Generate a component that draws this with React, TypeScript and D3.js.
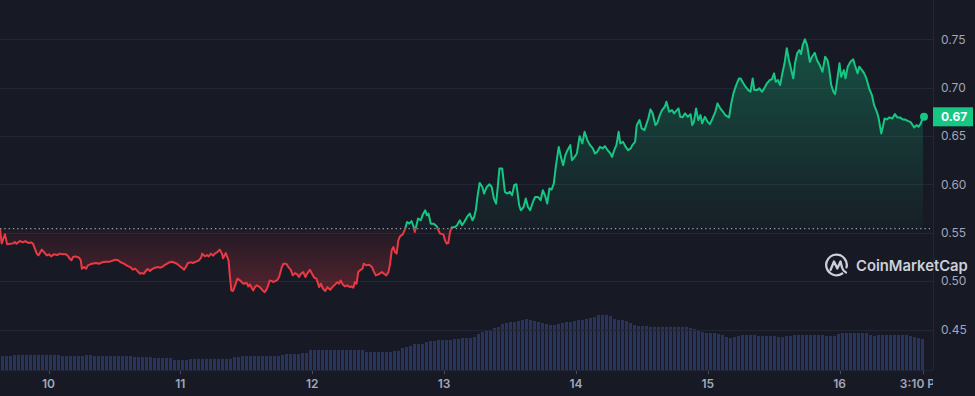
import React, { useEffect, useRef } from "react";
import * as d3 from "d3";

// price samples: [hours since start, price in USD]
const price: [number, number][] = [
  [0, 0.5544], [0.3, 0.5391], [0.9, 0.5485], [1.3, 0.5381], [2.4, 0.5391], [2.7, 0.5405], [3.0, 0.5388],
  [3.6, 0.5415], [4.2, 0.5402], [4.6, 0.5415], [4.9, 0.5402], [5.3, 0.5395], [5.6, 0.5402], [6.0, 0.5388],
  [6.7, 0.5285], [7.0, 0.5267], [7.6, 0.5326], [8.0, 0.5301], [8.5, 0.5267], [8.9, 0.5278], [9.3, 0.5257],
  [9.8, 0.5278], [10.4, 0.527], [10.9, 0.5285], [11.5, 0.5278], [12.0, 0.5278], [12.4, 0.5257], [12.7, 0.5233],
  [13.0, 0.5216], [13.3, 0.525], [13.8, 0.5257], [14.4, 0.5243], [14.7, 0.5216], [14.9, 0.513], [15.3, 0.5146],
  [15.7, 0.513], [16.0, 0.5164], [16.7, 0.5181], [17.5, 0.5188], [18.0, 0.5181], [18.6, 0.5195], [19.3, 0.5202],
  [20.0, 0.5202], [20.7, 0.5216], [21.1, 0.5223], [21.5, 0.5216], [22.0, 0.5195], [22.6, 0.5181], [23.1, 0.5161],
  [23.7, 0.5146], [24.2, 0.5119], [24.6, 0.513], [24.9, 0.5112], [25.5, 0.5078], [25.8, 0.5084], [26.2, 0.5078],
  [26.6, 0.5112], [26.9, 0.5125], [27.3, 0.5105], [27.7, 0.5125], [28.2, 0.514], [28.8, 0.5146], [29.1, 0.514],
  [29.5, 0.5146], [29.8, 0.5161], [30.2, 0.5174], [30.8, 0.5195], [31.3, 0.5202], [31.9, 0.5188], [32.2, 0.5181],
  [32.8, 0.5153], [33.3, 0.513], [33.5, 0.5119], [33.9, 0.5153], [34.2, 0.5188], [34.8, 0.5195], [35.1, 0.5188],
  [35.7, 0.5202], [36.2, 0.5216], [36.6, 0.5243], [36.8, 0.5285], [37.3, 0.5257], [37.7, 0.527], [38.0, 0.5257],
  [38.4, 0.5285], [38.8, 0.5264], [39.1, 0.5285], [39.5, 0.5298], [40.0, 0.5326], [40.4, 0.5285], [40.6, 0.5236],
  [41.1, 0.5291], [41.6, 0.5216], [41.8, 0.5081], [42.1, 0.4905], [42.4, 0.4898], [42.8, 0.4957], [43.2, 0.5026],
  [43.7, 0.5008], [44.3, 0.4974], [44.9, 0.4981], [45.2, 0.4946], [45.5, 0.4967], [45.8, 0.4933], [46.1, 0.4905],
  [46.4, 0.4939], [46.7, 0.4957], [47.3, 0.4939], [47.8, 0.4905], [48.2, 0.4887], [48.6, 0.4922], [49.1, 0.5008],
  [49.5, 0.5001], [49.7, 0.4991], [50.4, 0.5008], [50.8, 0.5043], [51.3, 0.5146], [51.6, 0.5181], [52.1, 0.5181],
  [52.5, 0.5146], [52.9, 0.5119], [53.3, 0.506], [53.7, 0.5084], [54.1, 0.5071], [54.4, 0.5043], [54.8, 0.5078],
  [55.2, 0.5094], [55.6, 0.5043], [55.9, 0.5078], [56.4, 0.5119], [56.8, 0.5078], [57.2, 0.5036], [57.6, 0.5026],
  [58.1, 0.4939], [58.4, 0.4974], [58.8, 0.4922], [59.2, 0.4898], [59.6, 0.4939], [60.1, 0.4912], [60.5, 0.4939],
  [61.0, 0.4967], [61.4, 0.4991], [61.7, 0.4974], [62.0, 0.5008], [62.4, 0.4967], [62.8, 0.4946], [63.2, 0.4957],
  [63.7, 0.4939], [64.0, 0.4946], [64.3, 0.4933], [64.6, 0.4991], [64.9, 0.4974], [65.2, 0.5094], [65.5, 0.5112],
  [66.0, 0.513], [66.2, 0.5181], [66.7, 0.5164], [67.2, 0.5171], [67.7, 0.5146], [68.1, 0.5094], [68.4, 0.506],
  [68.9, 0.5071], [69.5, 0.5094], [69.9, 0.5078], [70.3, 0.506], [70.7, 0.5094], [71.0, 0.5181], [71.3, 0.5319],
  [71.6, 0.5353], [71.9, 0.5301], [72.2, 0.5285], [72.5, 0.5422], [72.8, 0.5464], [73.3, 0.5484], [73.7, 0.5533],
  [74.1, 0.5612], [74.5, 0.5595], [74.9, 0.5622], [75.3, 0.556], [75.5, 0.5508], [75.8, 0.5578], [76.1, 0.5647],
  [76.6, 0.563], [76.9, 0.5681], [77.4, 0.5733], [77.7, 0.5681], [78.0, 0.5699], [78.4, 0.5595], [78.9, 0.5595],
  [79.5, 0.5567], [79.8, 0.5526], [80.1, 0.5492], [80.7, 0.5484], [81.0, 0.5422], [81.3, 0.5388], [81.6, 0.5395],
  [81.9, 0.5508], [82.2, 0.5554], [82.8, 0.556], [83.2, 0.5578], [83.7, 0.563], [84.1, 0.5578], [84.5, 0.5612],
  [85.0, 0.5664], [85.5, 0.5699], [86.0, 0.563], [86.3, 0.5664], [86.6, 0.5733], [86.9, 0.5871], [87.3, 0.6016],
  [87.8, 0.5974], [88.1, 0.5906], [88.6, 0.5974], [89.1, 0.6002], [89.5, 0.5974], [89.9, 0.5854], [90.3, 0.5802],
  [90.6, 0.5974], [90.9, 0.6165], [91.4, 0.6165], [91.9, 0.5923], [92.3, 0.5906], [92.8, 0.5923], [93.2, 0.5888],
  [93.6, 0.5992], [94.0, 0.6002], [94.5, 0.5785], [94.8, 0.5733], [95.3, 0.5767], [95.7, 0.5854], [96.1, 0.5767],
  [96.5, 0.5733], [97.0, 0.5819], [97.4, 0.5871], [97.9, 0.5871], [98.4, 0.5837], [98.8, 0.594], [99.2, 0.5888],
  [99.6, 0.5802], [100.0, 0.5958], [100.4, 0.5947], [100.8, 0.6009], [101.2, 0.6199], [101.7, 0.6388], [102.1, 0.6285],
  [102.5, 0.6199], [102.9, 0.6302], [103.3, 0.6354], [103.8, 0.6406], [104.1, 0.6251], [104.6, 0.6285], [105.0, 0.632],
  [105.5, 0.6499], [106.0, 0.6424], [106.4, 0.6544], [106.9, 0.6458], [107.4, 0.6406], [107.9, 0.6372], [108.3, 0.632],
  [108.7, 0.6337], [109.2, 0.6388], [109.7, 0.6372], [110.1, 0.6396], [110.6, 0.6354], [111.1, 0.632], [111.4, 0.6285],
  [111.8, 0.6354], [112.2, 0.6406], [112.6, 0.6544], [112.9, 0.6424], [113.4, 0.644], [113.9, 0.6388], [114.3, 0.6354],
  [114.8, 0.6372], [115.1, 0.6406], [115.6, 0.644], [115.9, 0.6613], [116.4, 0.6665], [116.8, 0.6579], [117.3, 0.6561],
  [117.6, 0.6613], [118.0, 0.6682], [118.4, 0.6776], [118.8, 0.6734], [119.3, 0.6613], [119.6, 0.6631], [120.1, 0.6717],
  [120.5, 0.6768], [121.0, 0.6803], [121.3, 0.6854], [121.8, 0.6751], [122.3, 0.6768], [122.7, 0.6734], [123.2, 0.6768],
  [123.5, 0.6786], [123.8, 0.6699], [124.2, 0.6693], [124.7, 0.6734], [125.2, 0.6699], [125.7, 0.6727], [126.0, 0.6613],
  [126.3, 0.6647], [126.7, 0.6786], [127.1, 0.6665], [127.5, 0.6717], [127.8, 0.6631], [128.3, 0.6699], [128.8, 0.6647],
  [129.2, 0.6623], [129.7, 0.6682], [130.2, 0.6751], [130.6, 0.6838], [131.1, 0.6786], [131.6, 0.6751], [132.0, 0.6717],
  [132.7, 0.6693], [133.1, 0.6838], [133.5, 0.6941], [134.0, 0.7027], [134.5, 0.7096], [134.8, 0.7096], [135.3, 0.7045],
  [135.7, 0.701], [136.2, 0.6975], [136.6, 0.6958], [137.0, 0.7096], [137.3, 0.6975], [137.8, 0.6975], [138.2, 0.6993],
  [138.7, 0.6958], [139.1, 0.6993], [139.6, 0.7045], [140.1, 0.7079], [140.5, 0.7086], [140.9, 0.7148], [141.2, 0.7061],
  [141.6, 0.7079], [142.0, 0.7027], [142.4, 0.7148], [142.8, 0.7252], [143.2, 0.7407], [143.6, 0.7286], [144.1, 0.7165],
  [144.4, 0.7096], [144.7, 0.7252], [145.1, 0.7355], [145.5, 0.7389], [145.8, 0.7348], [146.1, 0.7441], [146.5, 0.75],
  [146.9, 0.7441], [147.4, 0.7268], [147.8, 0.732], [148.3, 0.7361], [148.7, 0.7286], [149.2, 0.7234], [149.7, 0.7165],
  [150.2, 0.732], [150.6, 0.7286], [150.9, 0.72], [151.3, 0.7027], [151.7, 0.6958], [152.0, 0.6934], [152.3, 0.7045],
  [152.8, 0.7252], [153.1, 0.7113], [153.6, 0.7182], [153.9, 0.7096], [154.3, 0.7217], [154.8, 0.7268], [155.3, 0.7293],
  [155.6, 0.7234], [156.1, 0.7148], [156.4, 0.7217], [156.9, 0.7182], [157.3, 0.7148], [157.7, 0.7096], [158.2, 0.6993],
  [158.7, 0.6924], [159.1, 0.682], [159.6, 0.6751], [159.9, 0.6693], [160.4, 0.6527], [160.7, 0.6596], [161.0, 0.6682],
  [161.4, 0.6672], [161.9, 0.6693], [162.4, 0.6682], [162.9, 0.6727], [163.3, 0.6693], [163.8, 0.6693], [164.3, 0.6672],
  [164.7, 0.6672], [165.2, 0.6657], [165.7, 0.6647], [166.0, 0.6623], [166.4, 0.6589], [166.8, 0.6613], [167.2, 0.6596],
  [167.6, 0.6631], [168.0, 0.6699],
];

// trading volume per bar, millions USD
const volume: number[] = [
  14, 14, 14, 15, 15, 15, 15, 15, 15, 15, 15, 15, 15, 15, 15,
  14, 14, 14, 14, 14, 14, 15, 15, 14, 14, 14, 14, 14, 14, 14, 14, 14, 14,
  13, 13, 13, 13, 13, 12, 12, 12, 12, 12, 10, 10, 10, 10, 11, 11, 11,
  11, 11, 11, 11, 11, 11, 11, 11, 13, 13,
  14, 14, 14, 14, 14, 14, 14, 14, 14, 14, 15, 16, 16, 16, 16, 17, 17,
  20, 20, 20, 20, 20, 20, 20, 20, 20, 20, 20, 20, 20, 20,
  18, 18, 18, 18, 18, 18, 18, 19, 19,
  22, 23, 24, 26, 26, 26, 28, 29, 29, 30, 30, 30, 30, 31, 31, 32, 32, 32,
  33, 36, 38, 39, 40, 42, 43, 46, 47, 48, 48, 49, 50, 51, 50, 49, 48, 47, 46, 45, 45,
  46, 47, 48, 48, 49, 50, 50, 51, 52, 53, 55, 55, 55, 54, 51, 50, 50, 49, 47, 45, 44,
  44, 44, 43, 43, 43, 43, 43, 43, 43, 43, 43, 43, 42, 41, 39, 38, 37, 37, 37, 36, 35,
  33, 32, 33, 34, 35, 35, 35, 35, 34, 34, 34, 34, 34, 33, 33, 34, 34,
  35, 35, 35, 35, 35, 35, 35, 35, 34, 34, 34, 36, 37, 37, 37, 37, 37, 37, 37,
  35, 34, 35, 35, 35, 35, 35, 35, 35, 35, 34, 33, 32, 31,
];

const priceTicks = [0.45, 0.5, 0.55, 0.6, 0.65, 0.7, 0.75];
const dayTicks = [10, 11, 12, 13, 14, 15, 16];
const lastTickLabel = "3:10 PM";
const currentLabel = "0.67";

const W = 975;
const H = 396;
const plotW = 933;
const lineEndX = 923;
const volBottom = 370;

const GREEN = "#16c784";
const RED = "#ea3943";
const GRID = "#232634";
const LABEL = "#a1a7bb";

function renderChart(el: SVGSVGElement) {
  const svg = d3.select(el);
  svg.selectAll("*").remove();

  const start = new Date(2025, 0, 9, 15, 10);
  const end = new Date(start.getTime() + 168 * 3600e3);
  const x = d3.scaleTime().domain([start, end]).range([0, lineEndX]);
  const y = d3.scaleLinear().domain([0.45, 0.75]).range([329.6, 39.3]);
  const yVol = d3.scaleLinear().domain([0, 60]).range([volBottom, volBottom - 60]);
  const xVol = d3
    .scaleBand<number>()
    .domain(d3.range(volume.length))
    .range([0, 924])
    .paddingInner(0.25)
    .paddingOuter(0.125);

  const t = (h: number) => new Date(start.getTime() + h * 3600e3);
  const baseline = price[0][1];
  const baseY = y(baseline);

  svg.append("rect").attr("width", W).attr("height", H).attr("fill", "#171924");

  const defs = svg.append("defs");
  defs.append("clipPath").attr("id", "clip-up").append("rect").attr("x", 0).attr("y", 0).attr("width", plotW).attr("height", baseY);
  defs
    .append("clipPath")
    .attr("id", "clip-down")
    .append("rect")
    .attr("x", 0)
    .attr("y", baseY)
    .attr("width", plotW)
    .attr("height", volBottom - baseY);
  defs.append("clipPath").attr("id", "clip-plot").append("rect").attr("width", plotW).attr("height", H);

  const gUp = defs
    .append("linearGradient")
    .attr("id", "grad-up")
    .attr("gradientUnits", "userSpaceOnUse")
    .attr("x1", 0)
    .attr("x2", 0)
    .attr("y1", y(0.75))
    .attr("y2", baseY);
  gUp.append("stop").attr("offset", 0).attr("stop-color", GREEN).attr("stop-opacity", 0.32);
  gUp.append("stop").attr("offset", 1).attr("stop-color", GREEN).attr("stop-opacity", 0.03);

  const gDown = defs
    .append("linearGradient")
    .attr("id", "grad-down")
    .attr("gradientUnits", "userSpaceOnUse")
    .attr("x1", 0)
    .attr("x2", 0)
    .attr("y1", baseY)
    .attr("y2", y(0.488));
  gDown.append("stop").attr("offset", 0).attr("stop-color", RED).attr("stop-opacity", 0.04);
  gDown.append("stop").attr("offset", 1).attr("stop-color", RED).attr("stop-opacity", 0.3);

  // volume bars
  svg
    .append("g")
    .selectAll("rect")
    .data(volume)
    .enter()
    .append("rect")
    .attr("x", (_, i) => xVol(i))
    .attr("width", xVol.bandwidth())
    .attr("y", (v) => yVol(v))
    .attr("height", (v) => volBottom - yVol(v))
    .attr("fill", "#28335e")
    .attr("shape-rendering", "crispEdges");

  // gridlines
  svg
    .append("g")
    .selectAll("line")
    .data(priceTicks)
    .enter()
    .append("line")
    .attr("x1", 0)
    .attr("x2", plotW)
    .attr("y1", (d) => Math.round(y(d)) + 0.5)
    .attr("y2", (d) => Math.round(y(d)) + 0.5)
    .attr("stroke", GRID)
    .attr("stroke-width", 1);

  // axis frame
  svg.append("line").attr("x1", plotW + 0.5).attr("x2", plotW + 0.5).attr("y1", 0).attr("y2", volBottom).attr("stroke", GRID);
  svg.append("line").attr("x1", 0).attr("x2", plotW).attr("y1", volBottom + 0.5).attr("y2", volBottom + 0.5).attr("stroke", GRID);

  const area = d3
    .area<[number, number]>()
    .x((d) => x(t(d[0])))
    .y0(baseY)
    .y1((d) => y(d[1]));
  const line = d3
    .line<[number, number]>()
    .x((d) => x(t(d[0])))
    .y((d) => y(d[1]));

  svg.append("path").datum(price).attr("d", area).attr("fill", "url(#grad-up)").attr("clip-path", "url(#clip-up)");
  svg.append("path").datum(price).attr("d", area).attr("fill", "url(#grad-down)").attr("clip-path", "url(#clip-down)");

  // dotted reference line at opening price
  svg
    .append("line")
    .attr("x1", 0)
    .attr("x2", plotW)
    .attr("y1", baseY)
    .attr("y2", baseY)
    .attr("stroke", "#9aa1b6")
    .attr("stroke-width", 1.2)
    .attr("stroke-dasharray", "1.3 3");

  svg
    .append("path")
    .datum(price)
    .attr("d", line)
    .attr("fill", "none")
    .attr("stroke", GREEN)
    .attr("stroke-width", 2)
    .attr("stroke-linejoin", "round")
    .attr("clip-path", "url(#clip-up)");
  svg
    .append("path")
    .datum(price)
    .attr("d", line)
    .attr("fill", "none")
    .attr("stroke", RED)
    .attr("stroke-width", 2)
    .attr("stroke-linejoin", "round")
    .attr("clip-path", "url(#clip-down)");

  const last = price[price.length - 1];
  svg
    .append("circle")
    .attr("cx", x(t(last[0])) + 1)
    .attr("cy", y(last[1]))
    .attr("r", 4)
    .attr("fill", GREEN);

  // right price axis
  const yLabels = svg.append("g").attr("font-family", "Inter, sans-serif").attr("font-size", 12).attr("fill", LABEL);
  yLabels
    .selectAll("text")
    .data(priceTicks)
    .enter()
    .append("text")
    .attr("x", 941)
    .attr("y", (d) => y(d))
    .attr("dy", "0.35em")
    .text((d) => d3.format(".2f")(d));

  const tagY = y(last[1]);
  svg
    .append("rect")
    .attr("x", plotW)
    .attr("y", tagY - 9.5)
    .attr("width", 40)
    .attr("height", 19)
    .attr("fill", GREEN);
  svg
    .append("text")
    .attr("x", 941)
    .attr("y", tagY)
    .attr("dy", "0.35em")
    .attr("font-family", "Inter, sans-serif")
    .attr("font-size", 12)
    .attr("font-weight", 700)
    .attr("fill", "#ffffff")
    .text(currentLabel);

  // bottom time axis
  const xAxis = svg.append("g").attr("clip-path", "url(#clip-plot)");
  const tickDates = dayTicks.map((d) => new Date(2025, 0, d));
  const tickItems = [
    ...tickDates.map((d, i) => ({ pos: x(d), label: String(dayTicks[i]) })),
    { pos: x(end), label: lastTickLabel },
  ];
  xAxis
    .selectAll("line")
    .data(tickItems)
    .enter()
    .append("line")
    .attr("x1", (d) => Math.round(d.pos) + 0.5)
    .attr("x2", (d) => Math.round(d.pos) + 0.5)
    .attr("y1", volBottom + 1)
    .attr("y2", volBottom + 4)
    .attr("stroke", "#4a5063");
  xAxis
    .selectAll("text")
    .data(tickItems)
    .enter()
    .append("text")
    .attr("x", (d) => d.pos)
    .attr("y", 387.5)
    .attr("text-anchor", "middle")
    .attr("font-family", "Inter, sans-serif")
    .attr("font-size", 12)
    .attr("font-weight", 600)
    .attr("fill", LABEL)
    .text((d) => d.label);

  // watermark
  const mark = svg
    .append("g")
    .attr("transform", "translate(836.5,265)")
    .attr("fill", "none")
    .attr("stroke", "#cdd0d8")
    .attr("stroke-width", 2.3)
    .attr("stroke-linecap", "round")
    .attr("stroke-linejoin", "round");
  mark.append("path").attr("d", d3.arc()({ innerRadius: 10.3, outerRadius: 10.3, startAngle: 2.55, endAngle: 2.55 + Math.PI * 2 - 0.75 }) as string);
  mark.append("path").attr("d", "M-6,5 L-2.5,-3.5 L0.8,3.5 L4,-3.5 L5.5,2.5 Q6.5,6 9.5,7.5");
  svg
    .append("text")
    .attr("x", 856)
    .attr("y", 271)
    .attr("font-family", "Inter, sans-serif")
    .attr("font-size", 14.8)
    .attr("font-weight", 600)
    .attr("fill", "#cdd0d8")
    .text("CoinMarketCap");
}

const App: React.FC = () => {
  const ref = useRef<SVGSVGElement>(null);
  useEffect(() => {
    if (ref.current) renderChart(ref.current);
  }, []);
  return (
    <svg
      ref={ref}
      width={W}
      height={H}
      style={{ position: "fixed", left: 0, top: 0, display: "block" }}
    />
  );
};

export default App;
